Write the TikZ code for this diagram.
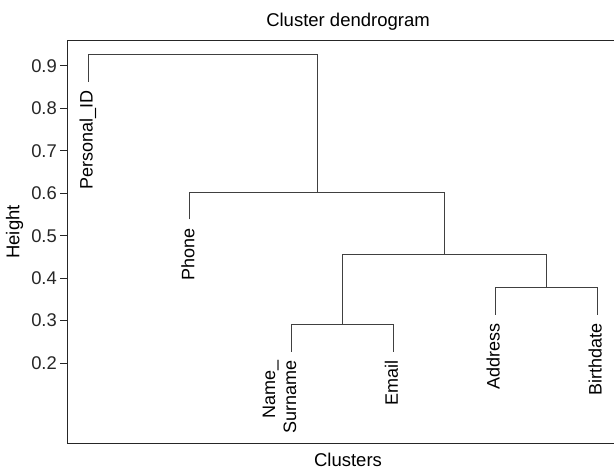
\documentclass[tikz,border=0pt]{standalone}
\usepackage{fontspec}
\setmainfont{Liberation Sans}
\usetikzlibrary{calc}

\begin{document}
\begin{tikzpicture}[x=1pt,y=1pt,
  branch/.style={line width=0.8pt,black!75},
  frame/.style={line width=1pt,black!85},
  leaflab/.style={rotate=90,anchor=base east,align=right,inner sep=0pt,font=\fontsize{18}{21}\selectfont},
  ticklab/.style={anchor=east,inner sep=2.5pt,font=\fontsize{18.4}{21}\selectfont},
  axlab/.style={font=\fontsize{18.5}{21}\selectfont}]
  \useasboundingbox (0,0) rectangle (614,470);
  \clip (0,0) rectangle (614,470);

  %titles
  \node[axlab,anchor=base] (title) at (348,443.3) {Cluster dendrogram};
  \node[axlab,anchor=base,inner sep=0pt] (xlab) at (348,3) {Clusters};
  \node[axlab,rotate=90] (ylab) at (14.5,238) {Height};

  % x = leaf index, y = height
  \begin{scope}[x=101.8pt,y=424.3pt,shift={(-13.8pt,22.13pt)}]
    %frame and axis
    \draw[frame] (0.8,0.011) rectangle (6.35,0.961);
    \foreach \h in {0.2,0.3,0.4,0.5,0.6,0.7,0.8,0.9}
      \draw[frame] (0.8,\h) -- ++(-7.8pt,0) node[ticklab] {\h};

    %leaves
    \coordinate (pid) at (1,0.8633);
    \coordinate (phone) at (2,0.5383);
    \coordinate (name) at (3,0.2263);
    \coordinate (email) at (4,0.2263);
    \coordinate (addr) at (5,0.3138);
    \coordinate (birth) at (6,0.3138);

    %merges
    \coordinate (c1) at (3.5,0.290);
    \coordinate (c2) at (5.5,0.3775);
    \coordinate (c3) at (4.5,0.456);
    \coordinate (c4) at (3.25,0.602);
    \coordinate (c5) at (2.125,0.927);

    \draw[branch] (name) |- (c1) -| (email);
    \draw[branch] (addr) |- (c2) -| (birth);
    \draw[branch] (c1) |- (c3) -| (c2);
    \draw[branch] (phone) |- (c4) -| (c3);
    \draw[branch] (pid) |- (c5) -| (c4);

    %labels
    \node[leaflab] (pidlab) at ($(pid)+(4.5pt,-8.5pt)$) {Personal\_ID};
    \node[leaflab] (phonelab) at ($(phone)+(4.5pt,-8.5pt)$) {Phone};
    \node[leaflab] (namelab) at ($(name)+(4.5pt,-8.5pt)$) {Name\_\\Surname};
    \node[leaflab] (emaillab) at ($(email)+(4.5pt,-8.5pt)$) {Email};
    \node[leaflab] (addrlab) at ($(addr)+(4.5pt,-8.5pt)$) {Address};
    \node[leaflab] (birthlab) at ($(birth)+(4.5pt,-8.5pt)$) {Birthdate};
  \end{scope}
\end{tikzpicture}
\end{document}
